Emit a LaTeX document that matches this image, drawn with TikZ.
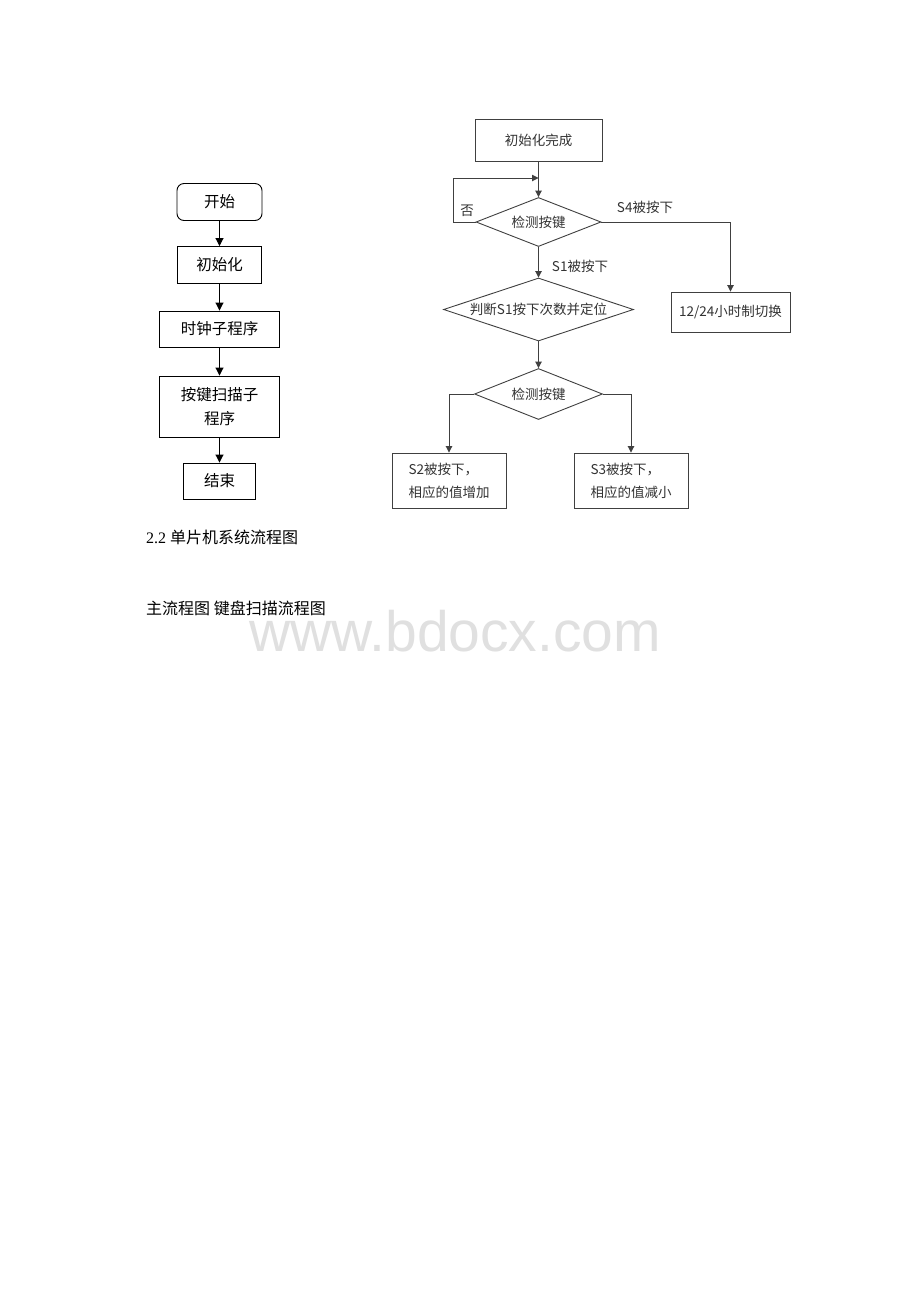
\documentclass[tikz,border=0pt]{standalone}
\usepackage{fontspec}
\setmainfont{Liberation Serif}
\newfontfamily\cjk{Noto Sans CJK SC}
\newfontfamily\wmfont{Liberation Sans}
\usetikzlibrary{arrows.meta,shapes.geometric}

\tikzset{
  mainbox/.style={draw=black, line width=0.9pt, inner sep=0pt, align=center,
    font=\cjk\fontsize{15.5pt}{24pt}\selectfont},
  keybox/.style={draw=black!75, line width=0.9pt, inner sep=0pt, text=black!80,
    font=\cjk\fontsize{13.5pt}{23pt}\selectfont},
  decision/.style={keybox, diamond},
  mainline/.style={draw=black, line width=0.9pt, -{Triangle[length=8pt,width=8pt]}},
  keyline/.style={draw=black!75, line width=0.9pt, -{Triangle[length=6.5pt,width=6.5pt]}},
  keylabel/.style={text=black!80, font=\cjk\fontsize{13.5pt}{16pt}\selectfont}
}

\begin{document}
\begin{tikzpicture}[x=1pt,y=-1pt]
  \useasboundingbox[fill=white] (0,0) rectangle (920,1302);

% main flow chart
  \node[mainbox, rounded corners=7pt, minimum width=85, minimum height=37] (start) at (219.5,202) {开始};
  \node[mainbox, minimum width=84, minimum height=37] (init) at (219.5,265) {初始化};
  \node[mainbox, minimum width=120, minimum height=36] (clock) at (219.5,329) {时钟子程序};
  \node[mainbox, minimum width=120, minimum height=61] (scan) at (219.5,406.5) {按键扫描子\\程序};
  \node[mainbox, minimum width=72, minimum height=36] (end) at (219.5,481) {结束};

  \draw[mainline] (start) -- (init);
  \draw[mainline] (init) -- (clock);
  \draw[mainline] (clock) -- (scan);
  \draw[mainline] (scan) -- (end);

% key scan flow chart
  \node[keybox, minimum width=127, minimum height=42] (done) at (538.5,140) {初始化完成};
  \node[decision, shape aspect=2.6, minimum width=125, minimum height=49] (key) at (538.5,222) {检测按键};
  \node[decision, shape aspect=3, minimum width=190, minimum height=63] (judge) at (538.5,309.5) {判断S1按下次数并定位};
  \node[decision, shape aspect=2.5, minimum width=128, minimum height=51] (keyb) at (538.5,394) {检测按键};
  \node[keybox, minimum width=119, minimum height=40] (switch) at (730.5,312) {12/24小时制切换};
  \node[keybox, minimum width=114, minimum height=55, align=left] (inc) at (449,480.5) {S2被按下，\\相应的值增加};
  \node[keybox, minimum width=114, minimum height=55, align=left] (dec) at (631,480.5) {S3被按下，\\相应的值减小};

  \coordinate (loopin) at (538.5,178);
  \draw[keyline] (done) -- (key);
  \draw[keyline] (key.west) -- ++(-22,0) |- (loopin);
  \draw[keyline] (key.east) -| (switch.north);
  \draw[keyline] (key) -- (judge);
  \draw[keyline] (judge) -- (keyb);
  \draw[keyline] (keyb.west) -| (inc.north);
  \draw[keyline] (keyb.east) -| (dec.north);

  \node[keylabel] (no) at (467,211) {否};
  \node[keylabel] (s4) at (645,207) {S4被按下};
  \node[keylabel] (s1) at (580,266) {S1被按下};

% captions
  \node[anchor=west, inner sep=0pt, font=\fontsize{16pt}{20pt}\selectfont] (cap) at (146,537) {2.2 {\cjk 单片机系统流程图}};
  \node[anchor=west, inner sep=0pt, font=\cjk\fontsize{16pt}{20pt}\selectfont] (names) at (146,608) {主流程图 键盘扫描流程图};

% watermark
  \node[anchor=base west, inner sep=0pt, text height=30pt, text depth=0pt, text=black!12,
    font=\wmfont\fontsize{57pt}{60pt}\selectfont] (wm) at (249,651) {www.bdocx.com};
\end{tikzpicture}
\end{document}
